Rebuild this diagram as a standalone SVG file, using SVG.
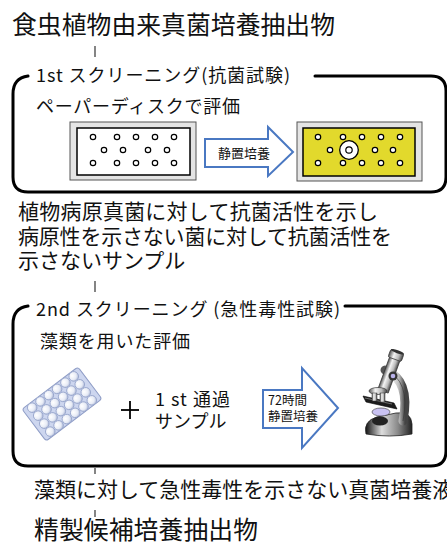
<svg xmlns="http://www.w3.org/2000/svg" width="447" height="546" viewBox="0 0 447 546">
  <style>
    text { font-family: "Noto Sans CJK JP", "Noto Sans", "Liberation Sans", sans-serif; fill: #111; }
    .t24 { font-size: 24.8px; }
    .t21 { font-size: 21px; }
    .t18 { font-size: 18px; }
    .t13 { font-size: 13px; }
    .t12 { font-size: 12.5px; }
    .frame { fill: none; stroke: #000; stroke-width: 3; stroke-linecap: round; }
    .tick { stroke: #333; stroke-width: 1.2; }
    .plate-out { fill: #e4e4e4; stroke: #555; stroke-width: 1; }
    .dot { fill: #fff; stroke: #000; stroke-width: 1.2; }
    .barrow { fill: #fff; stroke: #4a78c2; stroke-width: 2; stroke-linejoin: miter; }
    .well { fill: url(#wellGrad); stroke: #93a2c9; stroke-width: 0.8; }
  </style>
  <defs>
    <radialGradient id="wellGrad" cx="0.4" cy="0.35" r="0.7">
      <stop offset="0" stop-color="#ffffff"/>
      <stop offset="0.6" stop-color="#e8ecf6"/>
      <stop offset="1" stop-color="#aab5d4"/>
    </radialGradient>
    <linearGradient id="metal" x1="0" y1="0" x2="1" y2="0">
      <stop offset="0" stop-color="#555"/>
      <stop offset="0.35" stop-color="#f4f4f4"/>
      <stop offset="0.7" stop-color="#bbb"/>
      <stop offset="1" stop-color="#444"/>
    </linearGradient>
    <linearGradient id="baseGrad" x1="0" y1="0" x2="1" y2="0">
      <stop offset="0" stop-color="#111"/>
      <stop offset="0.35" stop-color="#ddd"/>
      <stop offset="0.7" stop-color="#888"/>
      <stop offset="1" stop-color="#222"/>
    </linearGradient>
  </defs>

  <!-- connectors: short ticks between stages -->
  <g id="connectors">
    <line class="tick" x1="95" y1="46" x2="95" y2="57"/>
    <line class="tick" x1="95" y1="281" x2="95" y2="292"/>
    <line class="tick" x1="95" y1="468" x2="95" y2="474"/>
    <line class="tick" x1="95" y1="510" x2="95" y2="517"/>
  </g>

  <g id="source">
    <text class="t24" x="12" y="34" textLength="323" lengthAdjust="spacing">食虫植物由来真菌培養抽出物</text>
  </g>

  <!-- first screening frame -->
  <g id="screening1">
    <path class="frame" d="M28,76 Q13,78 13,94 L13,177 Q13,192 28,192 L431,192 Q446,192 446,177 L446,91 Q446,76 431,76 L315,76"/>
    <text class="t18" x="36" y="82" textLength="254" lengthAdjust="spacing">1st スクリーニング(抗菌試験)</text>
    <text class="t18" x="36" y="113" textLength="204" lengthAdjust="spacing">ペーパーディスクで評価</text>

    <!-- disc plate before incubation -->
    <g id="plateBefore">
      <rect class="plate-out" x="70" y="122" width="126" height="58"/>
      <rect x="77" y="128" width="113" height="47" fill="#fff" stroke="#000" stroke-width="1.5"/>
      <g class="dot">
        <circle cx="93" cy="137" r="2.7"/><circle cx="117" cy="137" r="2.7"/><circle cx="136" cy="137" r="2.7"/><circle cx="155" cy="137" r="2.7"/><circle cx="174" cy="137" r="2.7"/>
        <circle cx="104" cy="150" r="2.7"/><circle cx="123" cy="150" r="2.7"/><circle cx="148" cy="150" r="2.7"/><circle cx="167" cy="150" r="2.7"/>
        <circle cx="93" cy="163" r="2.7"/><circle cx="117" cy="163" r="2.7"/><circle cx="136" cy="163" r="2.7"/><circle cx="155" cy="163" r="2.7"/><circle cx="174" cy="163" r="2.7"/>
      </g>
    </g>

    <g id="incubate1">
      <path class="barrow" d="M205,139 L268,139 L268,127 L293,152 L268,176 L268,167 L205,167 Z"/>
      <text class="t13" x="218" y="158">静置培養</text>
    </g>

    <!-- disc plate after incubation, with one inhibition zone -->
    <g id="plateAfter">
      <rect class="plate-out" x="297" y="122" width="125" height="59"/>
      <rect x="303" y="128" width="112" height="48" fill="#e2d92c" stroke="#000" stroke-width="1.5"/>
      <circle cx="349" cy="150" r="9.3" fill="#fff" stroke="#000" stroke-width="1.3"/>
      <g class="dot">
        <circle cx="318" cy="137" r="2.7"/><circle cx="343" cy="137" r="2.7"/><circle cx="362" cy="137" r="2.7"/><circle cx="381" cy="137" r="2.7"/><circle cx="400" cy="137" r="2.7"/>
        <circle cx="330" cy="150" r="2.7"/><circle cx="349" cy="150" r="3.2"/><circle cx="375" cy="150" r="2.7"/><circle cx="393" cy="150" r="2.7"/>
        <circle cx="318" cy="163" r="2.7"/><circle cx="343" cy="163" r="2.7"/><circle cx="362" cy="163" r="2.7"/><circle cx="381" cy="163" r="2.7"/><circle cx="400" cy="163" r="2.7"/>
      </g>
    </g>
  </g>

  <g id="result1">
    <text class="t21" x="18" y="219" textLength="360" lengthAdjust="spacing">植物病原真菌に対して抗菌活性を示し</text>
    <text class="t21" x="18" y="244" textLength="374" lengthAdjust="spacing">病原性を示さない菌に対して抗菌活性を</text>
    <text class="t21" x="18" y="268">示さないサンプル</text>
  </g>

  <!-- second screening frame -->
  <g id="screening2">
    <path class="frame" d="M28,306 Q13,308 13,324 L13,451 Q13,466 28,466 L431,466 Q446,466 446,451 L446,321 Q446,306 431,306 L345,306"/>
    <text class="t18" x="36" y="316" textLength="304" lengthAdjust="spacing">2nd スクリーニング (急性毒性試験)</text>
    <text class="t18" x="40" y="348" textLength="150" lengthAdjust="spacing">藻類を用いた評価</text>

    <!-- multi-well plate -->
    <g id="wellPlate" transform="translate(62,404) rotate(-37)">
      <rect x="-35" y="-20" width="70" height="40" rx="3" fill="#cdd6ef" stroke="#8f9dc6" stroke-width="1"/>
      <g class="well">
        <circle cx="-26" cy="-15" r="4.8"/><circle cx="-15.6" cy="-15" r="4.8"/><circle cx="-5.2" cy="-15" r="4.8"/><circle cx="5.2" cy="-15" r="4.8"/><circle cx="15.6" cy="-15" r="4.8"/><circle cx="26" cy="-15" r="4.8"/>
        <circle cx="-26" cy="-5" r="4.8"/><circle cx="-15.6" cy="-5" r="4.8"/><circle cx="-5.2" cy="-5" r="4.8"/><circle cx="5.2" cy="-5" r="4.8"/><circle cx="15.6" cy="-5" r="4.8"/><circle cx="26" cy="-5" r="4.8"/>
        <circle cx="-26" cy="5" r="4.8"/><circle cx="-15.6" cy="5" r="4.8"/><circle cx="-5.2" cy="5" r="4.8"/><circle cx="5.2" cy="5" r="4.8"/><circle cx="15.6" cy="5" r="4.8"/><circle cx="26" cy="5" r="4.8"/>
        <circle cx="-26" cy="15" r="4.8"/><circle cx="-15.6" cy="15" r="4.8"/><circle cx="-5.2" cy="15" r="4.8"/><circle cx="5.2" cy="15" r="4.8"/><circle cx="15.6" cy="15" r="4.8"/><circle cx="26" cy="15" r="4.8"/>
      </g>
    </g>

    <g id="plus">
      <line x1="121" y1="410" x2="139" y2="410" stroke="#000" stroke-width="1.8"/>
      <line x1="130" y1="401" x2="130" y2="419" stroke="#000" stroke-width="1.8"/>
    </g>

    <g id="sample">
      <text class="t18" x="155" y="406" textLength="75" lengthAdjust="spacing">1 st 通過</text>
      <text class="t18" x="155" y="428">サンプル</text>
    </g>

    <g id="incubate2">
      <path class="barrow" d="M263,390 L302,390 L302,368 L338,408 L302,448 L302,428 L263,428 Z"/>
      <text class="t12" x="268" y="405">72時間</text>
      <text class="t12" x="268" y="421">静置培養</text>
    </g>

    <!-- microscope -->
    <g id="microscope">
      <path d="M366,434 Q363,421 377,417 L396,413 Q411,411 412,424 L412,434 Q390,438 366,434 Z" fill="url(#baseGrad)" stroke="#222" stroke-width="0.8"/>
      <path d="M385,370 Q411,380 403,421" fill="none" stroke="url(#metal)" stroke-width="9" stroke-linecap="round"/>
      <path d="M385,370 Q411,380 403,421" fill="none" stroke="#333" stroke-width="0.6"/>
      <ellipse cx="380" cy="421" rx="8" ry="4.5" fill="#222"/>
      <ellipse cx="381" cy="412" rx="9" ry="4" fill="#c9c2f2" stroke="#333" stroke-width="0.6"/>
      <path d="M363,396 L394,403 L397,409 L366,402 Z" fill="#1c1c1c" stroke="#000" stroke-width="0.6"/>
      <path d="M365,398 L392,404" stroke="#888" stroke-width="0.8"/>
      <g transform="rotate(20 388 376)">
        <rect x="383" y="356" width="11" height="36" fill="url(#metal)" stroke="#333" stroke-width="0.7"/>
        <rect x="381.5" y="350" width="14" height="8" rx="1.5" fill="url(#metal)" stroke="#333" stroke-width="0.7"/>
        <ellipse cx="388.5" cy="350" rx="7" ry="1.6" fill="#333"/>
      </g>
      <circle cx="393" cy="376" r="4.5" fill="#333"/>
      <circle cx="393" cy="376" r="2.3" fill="#b9b2ea"/>
      <ellipse cx="378" cy="391" rx="9" ry="3.5" fill="url(#metal)" stroke="#333" stroke-width="0.7"/>
      <rect x="372" y="393" width="5" height="8" fill="url(#metal)" stroke="#333" stroke-width="0.5"/>
      <rect x="380" y="393" width="5" height="9" fill="url(#metal)" stroke="#333" stroke-width="0.5"/>
    </g>
  </g>

  <g id="result2">
    <text class="t21" x="34" y="497">藻類に対して急性毒性を示さない真菌培養液</text>
  </g>

  <g id="purified">
    <text class="t24" x="34" y="539" textLength="224" lengthAdjust="spacing">精製候補培養抽出物</text>
  </g>
</svg>
